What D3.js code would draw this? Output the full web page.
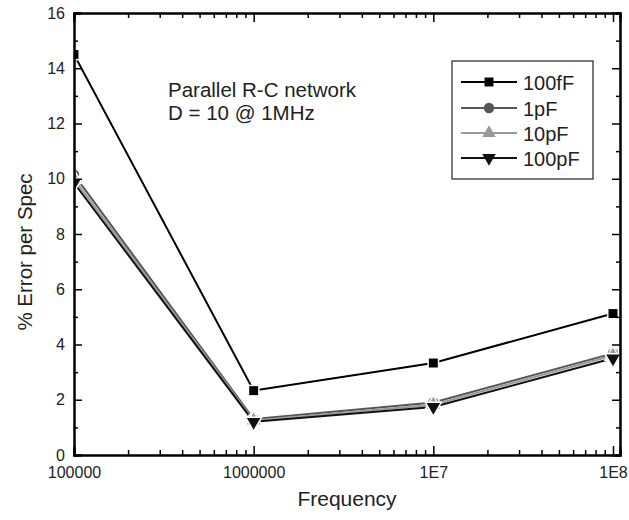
<!DOCTYPE html>
<html>
<head>
<meta charset="utf-8">
<script src="https://cdn.jsdelivr.net/npm/d3@7"></script>
<style>
  body { margin: 0; background: #fff; }
  text { font-family: "Liberation Sans", Arial, sans-serif; }
</style>
</head>
<body>
<svg id="chart"></svg>
<script>
// data
const frequencies = [1e5, 1e6, 1e7, 1e8];
const seriesNames = ["100fF", "1pF", "10pF", "100pF"];
const err100fF = [14.5, 2.33, 3.33, 5.12];
const err1pF = [10.15, 1.3, 1.9, 3.68];
const err10pF = [10.0, 1.25, 1.82, 3.6];
const err100pF = [9.85, 1.2, 1.74, 3.5];
const yTicks = [0, 2, 4, 6, 8, 10, 12, 14, 16];
const xTickLabels = ["100000", "1000000", "1E7", "1E8"];
const noteLines = ["Parallel R-C network", "D = 10 @ 1MHz"];

const width = 629, height = 520;
const margin = { top: 13, right: 9, bottom: 65, left: 74 };

const svg = d3.select("#chart").attr("width", width).attr("height", height);

const x = d3.scaleLog()
  .domain([1e5, 1.094e8])
  .range([margin.left, width - margin.right]);
const y = d3.scaleLinear()
  .domain([0, 16])
  .range([height - margin.bottom, margin.top]);

const series = [
  { name: seriesNames[0], values: err100fF, color: "#000", symbol: d3.symbolSquare, size: 80, rot: 0 },
  { name: seriesNames[1], values: err1pF, color: "#555", symbol: d3.symbolCircle, size: 85, rot: 0 },
  { name: seriesNames[2], values: err10pF, color: "#999", symbol: d3.symbolTriangle, size: 80, rot: 0 },
  { name: seriesNames[3], values: err100pF, color: "#111", symbol: d3.symbolTriangle, size: 80, rot: 180 }
];

// clip marks to the frame
svg.append("clipPath").attr("id", "clip")
  .append("rect")
  .attr("x", margin.left).attr("y", margin.top)
  .attr("width", width - margin.left - margin.right)
  .attr("height", height - margin.top - margin.bottom);

const plot = svg.append("g").attr("clip-path", "url(#clip)");

const line = d3.line().x((d, i) => x(frequencies[i])).y(d => y(d));

series.forEach(s => {
  plot.append("path")
    .datum(s.values)
    .attr("fill", "none")
    .attr("stroke", s.color)
    .attr("stroke-width", 2)
    .attr("d", line);
});

// markers, white halo gives the gap in the line like the original
series.forEach(s => {
  plot.selectAll(null)
    .data(s.values)
    .join("path")
    .attr("d", d3.symbol().type(s.symbol).size(s.size))
    .attr("transform", (d, i) => `translate(${x(frequencies[i])},${y(d)}) rotate(${s.rot})`)
    .attr("fill", s.color)
    .attr("stroke", "#fff")
    .attr("stroke-width", 3)
    .attr("paint-order", "stroke");
});

// axes, ticks pointing inward
const xMinor = [];
[1e5, 1e6, 1e7].forEach(dec => { for (let k = 2; k <= 9; k++) xMinor.push(dec * k); });
const yMinor = d3.range(1, 16, 2);

const axBottom = svg.append("g").attr("transform", `translate(0,${y(0)})`);
axBottom.call(d3.axisBottom(x).tickValues(frequencies).tickSize(-9).tickFormat((d, i) => xTickLabels[i]));
axBottom.append("g").call(d3.axisBottom(x).tickValues(xMinor).tickSize(-5).tickFormat(""));

const axTop = svg.append("g").attr("transform", `translate(0,${y(16)})`);
axTop.call(d3.axisTop(x).tickValues(frequencies).tickSize(-9).tickFormat(""));
axTop.append("g").call(d3.axisTop(x).tickValues(xMinor).tickSize(-5).tickFormat(""));

const axLeft = svg.append("g").attr("transform", `translate(${x.range()[0]},0)`);
axLeft.call(d3.axisLeft(y).tickValues(yTicks).tickSize(-8).tickFormat(d3.format("d")));
axLeft.append("g").call(d3.axisLeft(y).tickValues(yMinor).tickSize(-4).tickFormat(""));

const axRight = svg.append("g").attr("transform", `translate(${x.range()[1]},0)`);
axRight.call(d3.axisRight(y).tickValues(yTicks).tickSize(-8).tickFormat(""));
axRight.append("g").call(d3.axisRight(y).tickValues(yMinor).tickSize(-4).tickFormat(""));

svg.selectAll(".domain").attr("stroke", "#000").attr("stroke-width", 2);
svg.selectAll(".tick line").attr("stroke", "#000").attr("stroke-width", 1.5);
svg.selectAll(".tick text").attr("font-size", 16).attr("fill", "#222")
  .attr("font-family", "Liberation Sans, Arial, sans-serif");
axBottom.selectAll(".tick text").attr("y", 0).attr("dy", 23);
axLeft.selectAll(".tick text").attr("x", -9);

// axis titles
svg.append("text")
  .attr("x", (x.range()[0] + x.range()[1]) / 2)
  .attr("y", 506)
  .attr("text-anchor", "middle")
  .attr("font-size", 21)
  .attr("fill", "#222")
  .text("Frequency");

svg.append("text")
  .attr("transform", `translate(32,252) rotate(-90)`)
  .attr("text-anchor", "middle")
  .attr("font-size", 20.5)
  .attr("fill", "#222")
  .text("% Error per Spec");

// annotation
svg.append("text")
  .attr("x", 168).attr("y", 97)
  .attr("font-size", 20.5)
  .attr("fill", "#222")
  .selectAll("tspan")
  .data(noteLines)
  .join("tspan")
  .attr("x", 168)
  .attr("dy", (d, i) => i === 0 ? 0 : 23)
  .text(d => d);

// legend
const legend = svg.append("g");
legend.append("rect")
  .attr("x", 452).attr("y", 61)
  .attr("width", 141).attr("height", 118)
  .attr("fill", "#fff").attr("stroke", "#222").attr("stroke-width", 1.2);

const rowY = [82, 108, 133, 158];
series.forEach((s, i) => {
  const g = legend.append("g").attr("transform", `translate(0,${rowY[i]})`);
  g.append("line").attr("x1", 461).attr("x2", 517)
    .attr("stroke", s.color).attr("stroke-width", 2);
  g.append("path")
    .attr("d", d3.symbol().type(s.symbol).size(s.size))
    .attr("transform", `translate(489,0) rotate(${s.rot})`)
    .attr("fill", s.color);
  g.append("text")
    .attr("x", 523).attr("y", 7.5)
    .attr("font-size", 20)
    .attr("fill", "#222")
    .text(s.name);
});
</script>
</body>
</html>
